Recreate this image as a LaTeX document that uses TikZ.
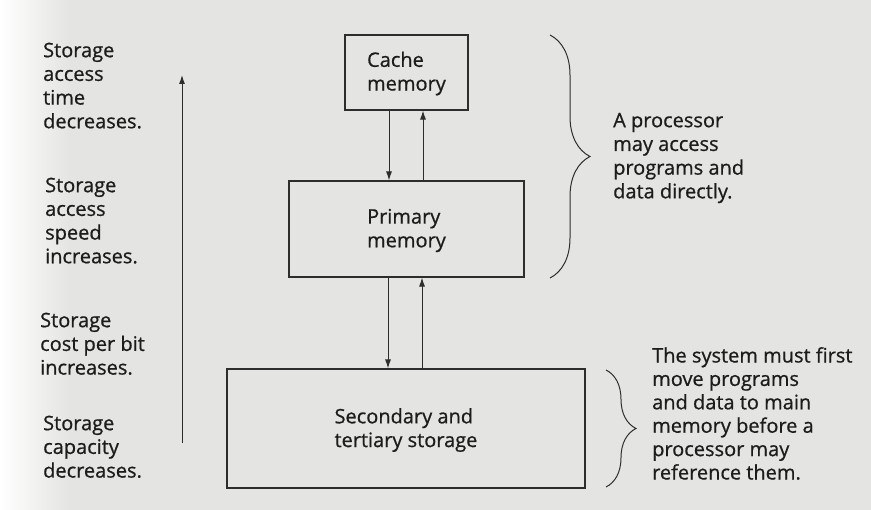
\documentclass[tikz,border=0pt]{standalone}
\usepackage{fontspec}
\setmainfont{Open Sans}
\newfontfamily\lblfont{Open Sans}[FakeBold=0.7]
\usetikzlibrary{arrows.meta,decorations.pathreplacing}
\definecolor{paper}{RGB}{228,228,226}
\definecolor{ink}{RGB}{28,28,28}
\definecolor{lineink}{RGB}{45,45,45}
\tikzset{
  lbl/.style={font=\lblfont\fontsize{20}{23.7}\selectfont, align=left, inner sep=0pt, text=ink},
  membox/.style={draw=lineink, line width=1.1pt, inner sep=0pt},
  link/.style={draw=lineink, line width=1pt, -{Latex[length=9pt,width=6pt]}},
  bracestyle/.style={draw=lineink, line width=1pt, decorate, decoration={brace, amplitude=#1}}
}
\begin{document}
\begin{tikzpicture}[x=1pt,y=-1pt]
\useasboundingbox (0,0) rectangle (871,510);
\fill[paper] (0,0) rectangle (871,510);
\shade[left color=white, right color=paper] (0,0) rectangle (70,510);

% boxes
\node[membox, minimum width=123pt, minimum height=75pt] (cache) at (406.5,72.5) {};
\node[membox, minimum width=235pt, minimum height=96pt] (primary) at (406.5,229) {};
\node[membox, minimum width=358pt, minimum height=119pt] (secondary) at (406,428.5) {};

\node[lbl] (cachet) at (406.5,73.5) {Cache\\memory};
\node[lbl] (primaryt) at (406.5,230.5) {Primary\\memory};
\node[lbl] (secondaryt) at (406,430) {Secondary and\\tertiary storage};

% arrows between levels
\draw[link] (cache.south -| 389,0) -- (primary.north -| 389,0);
\draw[link] (primary.north -| 423,0) -- (cache.south -| 423,0);
\draw[link] (primary.south -| 388,0) -- (secondary.north -| 388,0);
\draw[link] (secondary.north -| 422,0) -- (primary.south -| 422,0);

% long vertical arrow
\coordinate (lowend) at (182,443);
\coordinate (highend) at (182,75);
\draw[link] (lowend) -- (highend);

% left labels
\node[lbl, anchor=north west] (l1) at (43,42.5) {Storage\\access\\time\\decreases.};
\node[lbl, anchor=north west] (l2) at (45,177.5) {Storage\\access\\speed\\increases.};
\node[lbl, anchor=north west] (l3) at (40,312.5) {Storage\\cost per bit\\increases.};
\node[lbl, anchor=north west] (l4) at (43,415.5) {Storage\\capacity\\decreases.};

% braces
\coordinate (b1top) at (550,35);
\coordinate (b1bot) at (550,278);
\draw[bracestyle=40pt] (b1top) -- (b1bot);
\coordinate (b2top) at (606,370);
\coordinate (b2bot) at (606,487);
\draw[bracestyle=30pt] (b2top) -- (b2bot);

\node[lbl, anchor=north west] (r1) at (613,112.7) {A processor\\may access\\programs and\\data directly.};
\node[lbl, anchor=north west, font=\lblfont\fontsize{20}{23.4}\selectfont] (r2) at (652,347) {The system must first\\move programs\\and data to main\\memory before a\\processor may\\reference them.};
\end{tikzpicture}
\end{document}
